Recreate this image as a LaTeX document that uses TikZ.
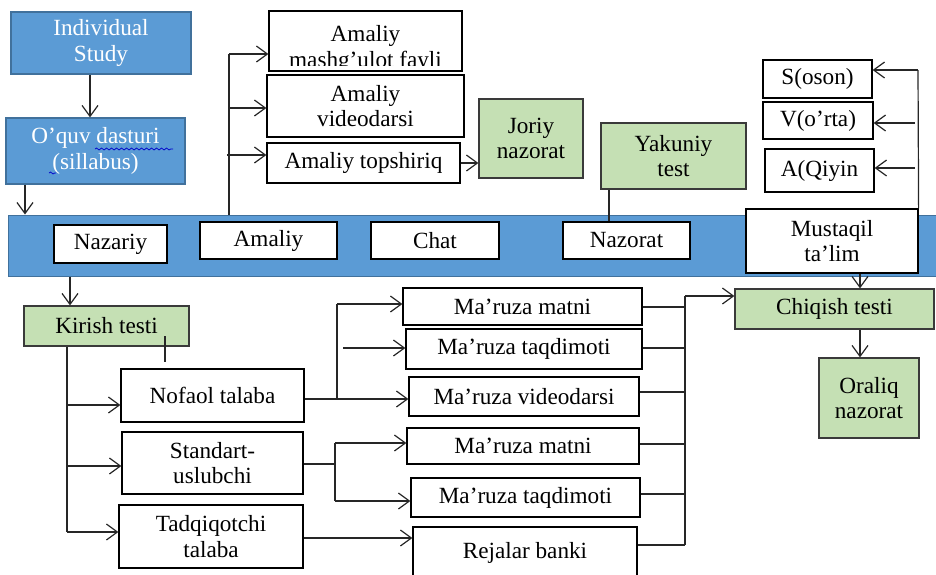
\documentclass[tikz,border=0pt]{standalone}
\usepackage{fontspec}
\setmainfont{Liberation Serif}
\usetikzlibrary{arrows.meta,decorations.pathmorphing}

\definecolor{bandblue}{HTML}{5B9BD5}
\definecolor{blueedge}{HTML}{41719C}
\definecolor{greenfill}{HTML}{C5E0B4}
\definecolor{greenedge}{HTML}{3A3A3A}

\tikzset{
  wbox/.style={draw=black, fill=white, line width=0.6pt, inner sep=0pt,
    align=center, font=\fontsize{11.6}{12.6}\selectfont},
  bbox/.style={wbox, draw=blueedge, fill=bandblue, text=white},
  gbox/.style={wbox, draw=greenedge, fill=greenfill},
  bandbox/.style={draw=blueedge, fill=bandblue, line width=0.5pt, inner sep=0pt},
  link/.style={line width=0.6pt, draw=black!85},
  arr/.style={link, -{Straight Barb[length=5.5pt,width=8pt]}},
  squiggle/.style={draw=blue!80!black, line width=0.35pt,
    decorate, decoration={snake, amplitude=0.5pt, segment length=2.5pt}},
}

% box from corner (x1,y1) to corner (x2,y2), in pixel units
\newcommand\bx[7]{\node[#6, minimum width={(#4-#2)*0.5pt},
  minimum height={(#5-#3)*0.5pt}] (#1) at ({(#2+#4)/2},{(#3+#5)/2}) {#7};}

\begin{document}
\begin{tikzpicture}[x=0.5pt,y=-0.5pt]
\useasboundingbox (0,0) rectangle (936,574);
\clip (0,0) rectangle (936,574);

% ---- main menu band ----
\bx{band}{8}{215}{945}{276}{bandbox}{}
\bx{nazariy}{54}{225}{167}{263}{wbox}{Nazariy}
\bx{amaliy}{200}{222}{337}{259}{wbox}{Amaliy}
\bx{chat}{371}{222}{499}{259}{wbox}{Chat}
\bx{nazorat}{563}{222}{690}{259}{wbox}{Nazorat}
\bx{mustaqil}{746}{209}{918}{273}{wbox}{Mustaqil\\ta’lim}

% ---- top left ----
\bx{indiv}{11}{12}{191}{74}{bbox}{Individual\\Study}
\bx{oquv}{6}{118}{185}{184}{bbox}{O’quv dasturi\\(sillabus)}
\draw[squiggle] (95,149) -- (173,149);
\draw[squiggle] (49,173) -- (56,173);

\coordinate (xIndiv) at (90,0);
\coordinate (xOquv) at (25,0);
\draw[arr] (indiv.south -| xIndiv) -- (oquv.north -| xIndiv);
\draw[arr] (oquv.south -| xOquv) -- (band.north -| xOquv);

% ---- practical materials ----
\node[wbox, draw, minimum width=96.5pt, minimum height=30pt] (fayl) at (365.5,41) {};
\begin{scope}
  \clip (269,11) rectangle (462,65);
  \node[wbox, draw=none, fill=none] at (365.5,49) {Amaliy\\mashg’ulot fayli};
\end{scope}
\bx{video}{267}{75}{464}{137}{wbox}{Amaliy\\videodarsi}
\bx{topsh}{267}{143}{460}{183}{wbox}{Amaliy topshiriq}
\bx{joriy}{479}{99}{583}{178}{gbox}{Joriy\\nazorat}

\coordinate (a1) at (229,54);
\coordinate (a2) at (229,108);
\coordinate (a3) at (227,155);
\draw[link] (band.north -| a1) -- (a1);
\draw[arr] (a1) -- (a1 -| fayl.west);
\draw[arr] (a2) -- (a2 -| video.west);
\draw[arr] (a3) -- (a3 -| topsh.west);
\draw[arr] (topsh.east) -- (topsh.east -| joriy.west);

% ---- final test ----
\bx{yakuniy}{601}{123}{746}{189}{gbox}{Yakuniy\\test}
\coordinate (xYak) at (609,0);
\draw[link] (yakuniy.south -| xYak) -- (nazorat.north -| xYak);

% ---- difficulty levels ----
\bx{soson}{763}{60}{872}{98}{wbox}{S(oson)}
\bx{vorta}{763}{102}{873}{139}{wbox}{V(o’rta)}
\bx{aqiyin}{765}{149}{874}{192}{wbox}{A(Qiyin}
\coordinate (r1) at (918,70);
\coordinate (r2) at (915,123);
\coordinate (r3) at (915,168);
\draw[link] (mustaqil.north east) -- (r1);
\draw[arr] (r1) -- (r1 -| soson.east);
\draw[arr] (r2) -- (r2 -| vorta.east);
\draw[arr] (r3) -- (r3 -| aqiyin.east);

% ---- exit test ----
\bx{chiqish}{735}{289}{934}{329}{gbox}{Chiqish testi}
\bx{oraliq}{819}{358}{919}{438}{gbox}{Oraliq\\nazorat}
\coordinate (xOut) at (860,0);
\draw[arr] (mustaqil.south -| xOut) -- (chiqish.north -| xOut);
\draw[arr] (chiqish.south -| xOut) -- (oraliq.north -| xOut);

% ---- entry test and student types ----
\bx{kirish}{24}{306}{189}{346}{gbox}{Kirish testi}
\coordinate (xKir) at (70,0);
\draw[arr] (band.south -| xKir) -- (kirish.north -| xKir);
\coordinate (tickA) at (165,336);
\coordinate (tickB) at (165,362);
\draw[link] (tickA) -- (tickB);

\bx{nofaol}{121}{369}{304}{422}{wbox}{Nofaol talaba}
\bx{standart}{122}{432}{303}{494}{wbox}{Standart-\\uslubchi}
\bx{tadqiq}{119}{505}{303}{568}{wbox}{Tadqiqotchi\\talaba}

\coordinate (s1) at (67,405);
\coordinate (s2) at (67,466);
\coordinate (s3) at (67,532);
\draw[link] (kirish.south -| s1) -- (s3);
\draw[arr] (s1) -- (s1 -| nofaol.west);
\draw[arr] (s2) -- (s2 -| standart.west);
\draw[arr] (s3) -- (s3 -| tadqiq.west);

% ---- lecture materials ----
\bx{matn1}{403}{288}{642}{325}{wbox}{Ma’ruza matni}
\bx{taqd1}{406}{329}{642}{369}{wbox}{Ma’ruza taqdimoti}
\bx{vidl}{409}{377}{639}{416}{wbox}{Ma’ruza videodarsi}
\bx{matn2}{407}{428}{639}{464}{wbox}{Ma’ruza matni}
\bx{taqd2}{411}{478}{640}{517}{wbox}{Ma’ruza taqdimoti}
\bx{rejalar}{413}{527}{637}{578}{wbox}{Rejalar banki}

\coordinate (n1) at (337,304);
\coordinate (n2) at (343,348);
\coordinate (n3) at (337,399);
\draw[link] (nofaol.east |- n3) -- (n3) -- (n1);
\draw[arr] (n1) -- (n1 -| matn1.west);
\draw[arr] (n2) -- (n2 -| taqd1.west);
\draw[arr] (n3) -- (n3 -| vidl.west);

\coordinate (t0) at (335,464);
\coordinate (t1) at (335,443);
\coordinate (t2) at (335,501);
\draw[link] (standart.east |- t0) -- (t0);
\draw[link] (t1) -- (t2);
\draw[arr] (t1) -- (t1 -| matn2.west);
\draw[arr] (t2) -- (t2 -| taqd2.west);

\coordinate (q1) at (0,538);
\draw[arr] (tadqiq.east |- q1) -- (rejalar.west |- q1);

% ---- collector to exit test ----
\coordinate (cTop) at (685,296);
\coordinate (c1) at (685,307);
\coordinate (c2) at (685,348);
\coordinate (c3) at (685,392);
\coordinate (c4) at (685,444);
\coordinate (c5) at (685,494);
\coordinate (c6) at (685,545);
\draw[link] (c6) -- (cTop);
\draw[arr] (cTop) -- (cTop -| chiqish.west);
\draw[link] (matn1.east |- c1) -- (c1);
\draw[link] (taqd1.east |- c2) -- (c2);
\draw[link] (vidl.east |- c3) -- (c3);
\draw[link] (matn2.east |- c4) -- (c4);
\draw[link] (taqd2.east |- c5) -- (c5);
\draw[link] (rejalar.east |- c6) -- (c6);
\end{tikzpicture}
\end{document}
